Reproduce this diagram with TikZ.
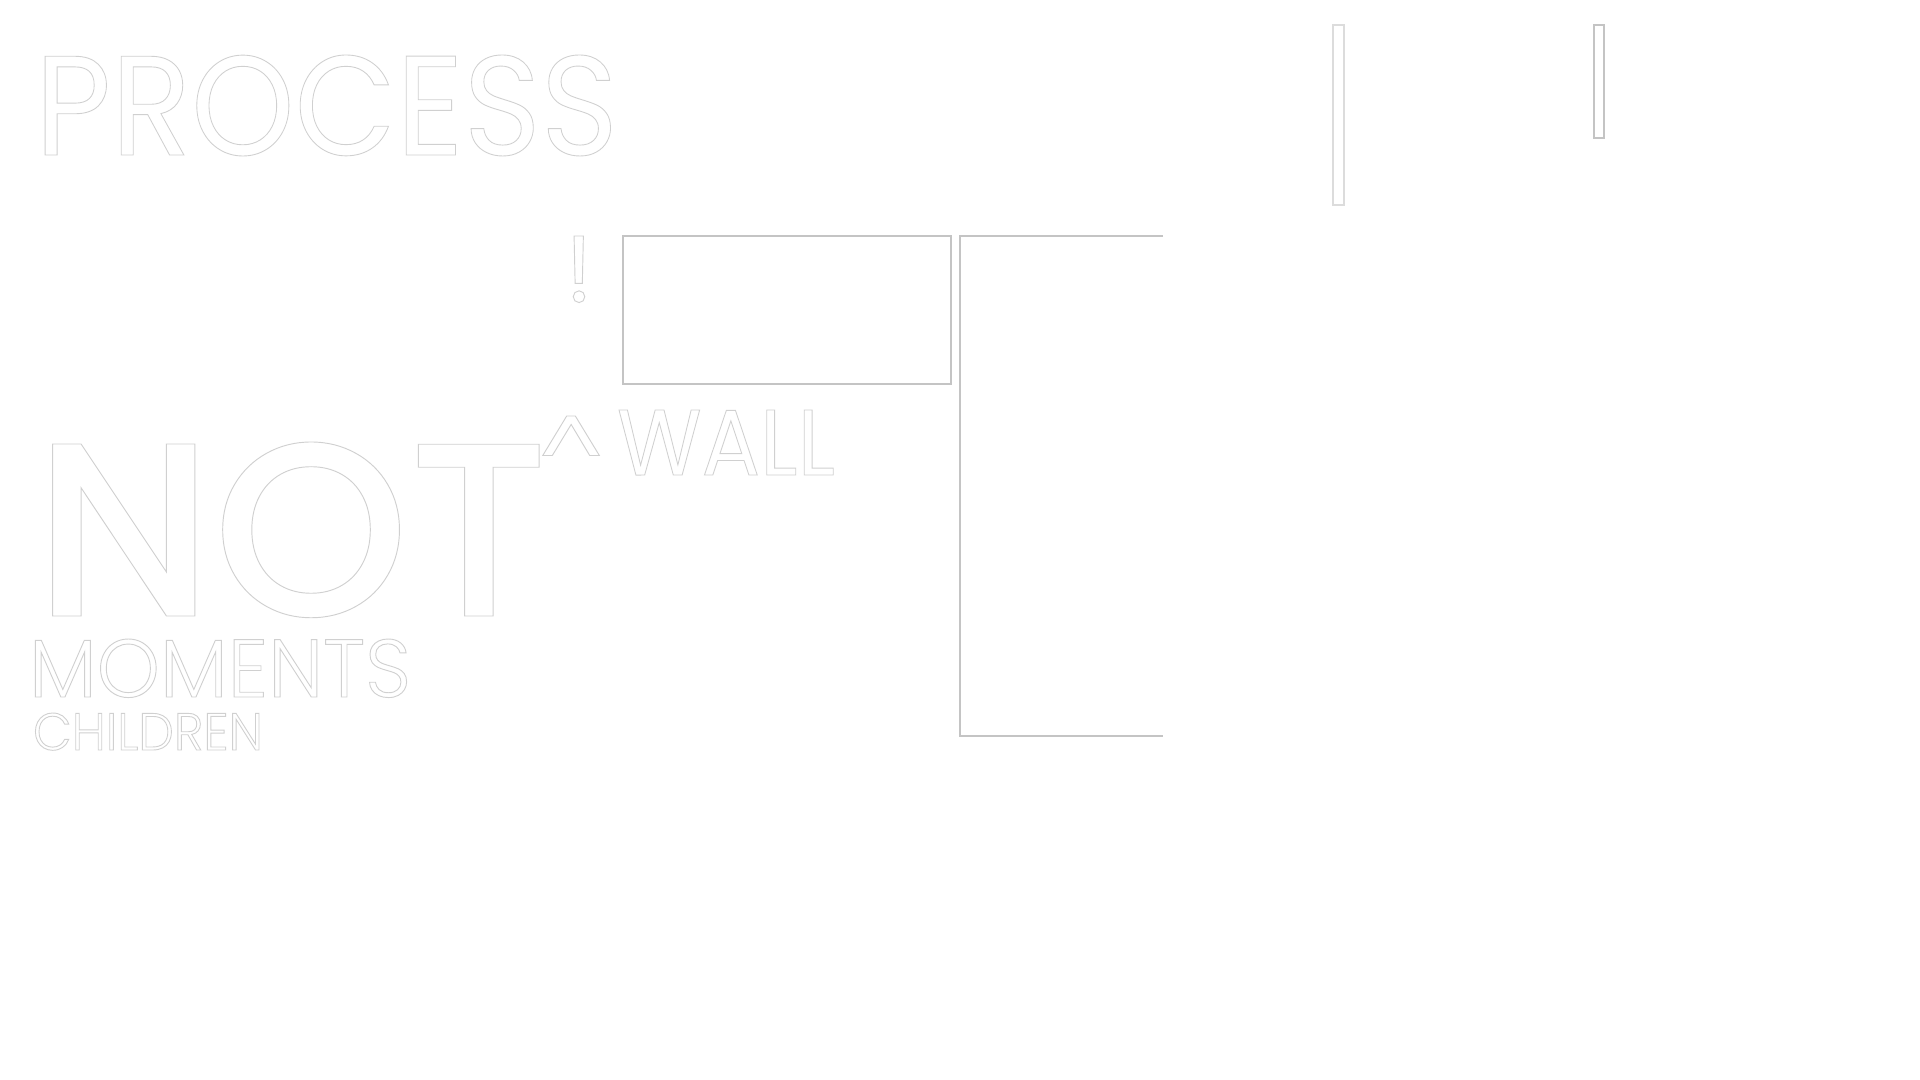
\documentclass[tikz,border=0pt]{standalone}
\usepackage{fontspec}
\setmainfont{Poppins}
\newfontfamily\thinfont{Poppins Light}
\newfontfamily\boldfont{Poppins Medium}
\usepackage{graphicx}
\usepackage{xcolor}
\usetikzlibrary{positioning}

\definecolor{Outline}{HTML}{D0D0D0}
\definecolor{Frame}{HTML}{C4C4C4}
\definecolor{BarLight}{HTML}{DCDCDC}

% hollow letters: stroke the glyph outlines only
\newcommand{\hollow}[3]{\resizebox{#1}{#2}{\special{pdf:literal direct 1 Tr 0.45 w}#3\special{pdf:literal direct 0 Tr}}}

\begin{document}
\begin{tikzpicture}[x=0.5pt, y=-0.5pt,
    word/.style={inner sep=0pt, outer sep=0pt, text=Outline},
    frame/.style={draw=Frame, line width=0.6pt}]

	\useasboundingbox (0,0) rectangle (1920,1080);
	\fill[white] (0,0) rectangle (1920,1080);

	\coordinate (P) at (35,155);
	\coordinate (N) at (34,616);
	\coordinate (M) at (29,697);
	\coordinate (K) at (33,750);
	\coordinate (W) at (617,475);

	\node[word, anchor=base west] (process) at (P) {\hollow{291.5pt}{50pt}{\fontsize{72}{72}\selectfont PROCESS}};
	\node[word, anchor=base west] (not) at (N) {\hollow{257.5pt}{87pt}{\boldfont\fontsize{120}{120}\selectfont NOT}};
	\node[word, anchor=base west] (moments) at (M) {\hollow{191pt}{29pt}{\thinfont\fontsize{40}{40}\selectfont MOMENTS}};
	\node[word, anchor=base west] (children) at (K) {\hollow{115pt}{18.5pt}{\thinfont\fontsize{26}{26}\selectfont CHILDREN}};
	\node[word, anchor=base west] (wall) at (W) {\hollow{109pt}{32.5pt}{\fontsize{46}{46}\selectfont WALL}};
	\node[word, anchor=north] (caret) at (571,416) {\hollow{32pt}{!}{\fontsize{46}{46}\selectfont\scalebox{1}[0.74]{\textasciicircum}}};
	\node[word, anchor=base] (bang) at (579,302) {\hollow{!}{33pt}{\fontsize{46}{46}\selectfont !}};

	\draw[frame] (623,236) rectangle (951,384);
	\draw[frame] (1163,236) -- (960,236) -- (960,736) -- (1163,736);

	\draw[frame, draw=BarLight] (1333,25) rectangle (1344,205);
	\draw[frame] (1594,25) rectangle (1604,138);

\end{tikzpicture}
\end{document}
